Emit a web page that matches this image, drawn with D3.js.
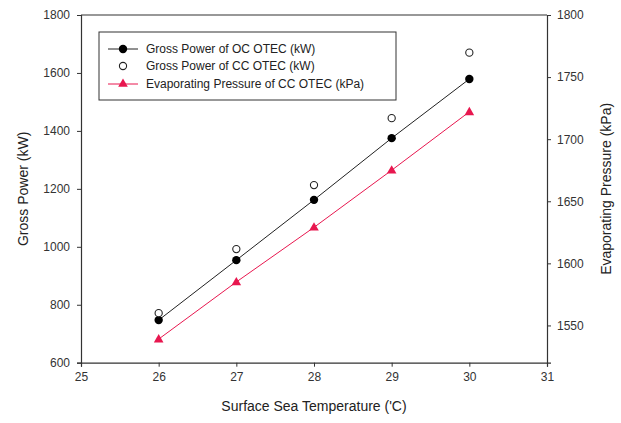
<!DOCTYPE html>
<html><head><meta charset="utf-8">
<script src="https://cdn.jsdelivr.net/npm/d3@7"></script>
<style>body{margin:0;background:#fff}svg{display:block;font-family:Arial,"Liberation Sans",sans-serif}</style>
</head><body><svg id="c" width="621" height="423"></svg>
<script>
const temps = [26, 27, 28, 29, 30];
const ocPower = [747, 954, 1162, 1375, 1579];
const ccPower = [771, 992, 1213, 1444, 1670];
const ccPressure = [1539, 1585, 1629, 1675, 1722];
const xTicks = [25, 26, 27, 28, 29, 30, 31];
const yTicks = [600, 800, 1000, 1200, 1400, 1600, 1800];
const y2Ticks = [1550, 1600, 1650, 1700, 1750, 1800];
const legendLabels = ["Gross Power of OC OTEC (kW)", "Gross Power of CC OTEC (kW)", "Evaporating Pressure of CC OTEC (kPa)"];

const svg = d3.select("#c");
const L = 81, R = 547, T = 15, B = 362.7;
const x = d3.scaleLinear().domain([25, 31]).range([L, R]);
const y = d3.scaleLinear().domain([600, 1800]).range([B, T]);
const y2 = d3.scaleLinear().domain([1520, 1800]).range([B, T]);
const red = "#e8174f";

function styleAxis(g){
  g.selectAll(".domain").attr("stroke", "#333").attr("stroke-width", 1.2);
  g.selectAll(".tick line").attr("stroke", "#333");
  g.selectAll(".tick text").attr("fill", "#333").style("font-size", "12px").style("font-family", "Arial, 'Liberation Sans', sans-serif");
}
svg.append("g").attr("transform", `translate(0,${B})`)
  .call(d3.axisBottom(x).tickValues(xTicks).tickFormat(d3.format("d")).tickSizeOuter(0).tickSize(4).tickPadding(6)).call(styleAxis);
svg.append("g").attr("transform", `translate(${L},0)`)
  .call(d3.axisLeft(y).tickValues(yTicks).tickFormat(d3.format("d")).tickSizeOuter(0).tickSize(4).tickPadding(7)).call(styleAxis);
svg.append("g").attr("transform", `translate(${R},0)`)
  .call(d3.axisRight(y2).tickValues(y2Ticks).tickFormat(d3.format("d")).tickSizeOuter(0).tickSize(4).tickPadding(6)).call(styleAxis);
svg.append("line").attr("x1", L).attr("x2", R).attr("y1", T).attr("y2", T).attr("stroke", "#333").attr("stroke-width", 1.2);

// lines
const lineL = d3.line().x((d, i) => x(temps[i])).y(d => y(d));
const lineR = d3.line().x((d, i) => x(temps[i])).y(d => y2(d));
svg.append("path").attr("d", lineL(ocPower)).attr("fill", "none").attr("stroke", "#222").attr("stroke-width", 1);
svg.append("path").attr("d", lineR(ccPressure)).attr("fill", "none").attr("stroke", red).attr("stroke-width", 1);

svg.selectAll(".oc").data(ocPower).enter().append("circle")
  .attr("cx", (d, i) => x(temps[i])).attr("cy", d => y(d)).attr("r", 4.2).attr("fill", "#000");
svg.selectAll(".cc").data(ccPower).enter().append("circle")
  .attr("cx", (d, i) => x(temps[i])).attr("cy", d => y(d)).attr("r", 3.6).attr("fill", "#fff").attr("stroke", "#222").attr("stroke-width", 1.1);
const tri = d3.symbol().type(d3.symbolTriangle).size(40);
svg.selectAll(".pr").data(ccPressure).enter().append("path")
  .attr("d", tri).attr("transform", (d, i) => `translate(${x(temps[i])},${y2(d) + 0.5})`).attr("fill", red);

// legend
const lg = svg.append("g");
lg.append("rect").attr("x", 99).attr("y", 32).attr("width", 297).attr("height", 68).attr("fill", "#fff").attr("stroke", "#333").attr("stroke-width", 1);
const rows = [49, 66, 84];
legendLabels.forEach((t, i) => {
  const cy = rows[i];
  if (i === 0) {
    lg.append("line").attr("x1", 108).attr("x2", 138).attr("y1", cy).attr("y2", cy).attr("stroke", "#222");
    lg.append("circle").attr("cx", 123).attr("cy", cy).attr("r", 4.2).attr("fill", "#000");
  } else if (i === 1) {
    lg.append("circle").attr("cx", 123).attr("cy", cy).attr("r", 3.6).attr("fill", "#fff").attr("stroke", "#222").attr("stroke-width", 1.1);
  } else {
    lg.append("line").attr("x1", 108).attr("x2", 138).attr("y1", cy).attr("y2", cy).attr("stroke", red);
    lg.append("path").attr("d", tri).attr("transform", `translate(123,${cy})`).attr("fill", red);
  }
  lg.append("text").attr("x", 146).attr("y", cy).attr("dy", "0.35em").attr("fill", "#222").style("font-size", "12px").text(t);
});

// titles
svg.append("text").attr("transform", `translate(23,${(T + B) / 2}) rotate(-90)`).attr("text-anchor", "middle").attr("dy", "0.35em")
  .attr("fill", "#222").style("font-size", "14px").text("Gross Power (kW)");
svg.append("text").attr("transform", `translate(606,${(T + B) / 2}) rotate(-90)`).attr("text-anchor", "middle").attr("dy", "0.35em")
  .attr("fill", "#222").style("font-size", "14px").text("Evaporating Pressure (kPa)");
svg.append("text").attr("x", (L + R) / 2).attr("y", 411).attr("text-anchor", "middle")
  .attr("fill", "#222").style("font-size", "14px").text("Surface Sea Temperature ('C)");
</script></body></html>
